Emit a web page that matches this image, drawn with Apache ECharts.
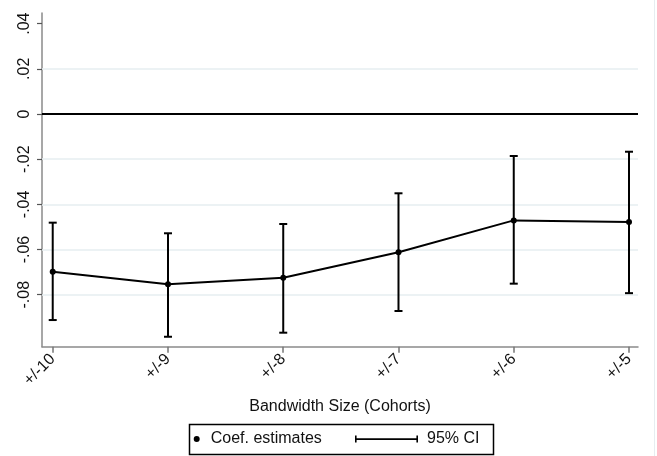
<!DOCTYPE html>
<html>
<head>
<meta charset="utf-8">
<script src="https://cdn.jsdelivr.net/npm/echarts@6/dist/echarts.min.js"></script>
<style>
html,body{margin:0;padding:0;background:#fff;}
#chart{width:657px;height:456px;}
</style>
</head>
<body>
<div id="chart"></div>
<script>
// Bandwidth (cohorts), numeric positions and their tick labels
const bandwidths = [-10, -9, -8, -7, -6, -5];
const xTickLabels = ['+/-10', '+/-9', '+/-8', '+/-7', '+/-6', '+/-5'];
// Coefficient estimates and 95% CI bounds
const coefEstimates = [-0.0698, -0.0754, -0.0725, -0.0612, -0.0471, -0.0478];
const ciUpper = [-0.0481, -0.0528, -0.0487, -0.0351, -0.0186, -0.0167];
const ciLower = [-0.0912, -0.0986, -0.0968, -0.0872, -0.0751, -0.0793];
// Y-axis ticks
const yTicks = [0.04, 0.02, 0, -0.02, -0.04, -0.06, -0.08];
const yGridTicks = [0.02, -0.02, -0.04, -0.06, -0.08];

function fmtY(v) {
  if (Math.abs(v) < 1e-9) return '0';
  const s = v.toFixed(2);
  return s.replace('0.', '.');
}

const font = 'Liberation Sans, Arial, sans-serif';
const chart = echarts.init(document.getElementById('chart'), null, {renderer: 'canvas'});

const pointData = bandwidths.map((b, i) => [b, coefEstimates[i]]);
const ciData = bandwidths.map((b, i) => [b, ciLower[i], ciUpper[i]]);

const option = {
  backgroundColor: '#fff',
  animation: false,
  grid: {left: 42, right: 19, top: 13, bottom: 109.3, containLabel: false},
  xAxis: {
    type: 'value',
    min: -10.093,
    max: -4.922,
    name: 'Bandwidth Size (Cohorts)',
    nameLocation: 'middle',
    nameGap: 52,
    nameTextStyle: {fontFamily: font, fontSize: 16, color: '#111'},
    axisLine: {show: true, onZero: false, lineStyle: {color: '#8a8a8a', width: 1.5}},
    axisTick: {show: true, length: 6, customValues: bandwidths, lineStyle: {color: '#777', width: 1.5}},
    axisLabel: {
      customValues: bandwidths,
      rotate: 45,
      margin: 10,
      fontFamily: font, fontSize: 16, color: '#111',
      formatter: function (v) {
        const idx = bandwidths.findIndex(b => Math.abs(b - v) < 1e-6);
        return idx >= 0 ? xTickLabels[idx] : '';
      }
    },
    splitLine: {show: false}
  },
  yAxis: {
    type: 'value',
    min: -0.1030,
    max: 0.0447,
    axisLine: {show: true, onZero: false, lineStyle: {color: '#8a8a8a', width: 1.5}},
    axisTick: {show: true, length: 5, customValues: yTicks, lineStyle: {color: '#555', width: 1.2}},
    axisLabel: {
      customValues: yTicks,
      rotate: 90,
      margin: 9,
      fontFamily: font, fontSize: 16, color: '#111',
      formatter: fmtY
    },
    splitLine: {show: false}
  },
  legend: [
    {
      data: [{name: 'Coef. estimates', icon: 'circle'}],
      left: 193.7, top: 431,
      padding: 0,
      itemWidth: 6, itemHeight: 6,
      textStyle: {fontFamily: font, fontSize: 16, color: '#111', padding: [0, 0, 0, 6]},
      selectedMode: false
    },
    {
      data: [{name: '95% CI', icon: 'path://M0,0h1.6v7h-1.6z M0,2.8h63v1.6h-63z M61.4,0h1.6v7h-1.6z'}],
      left: 355, top: 431,
      padding: 0,
      itemWidth: 63, itemHeight: 7,
      textStyle: {fontFamily: font, fontSize: 16, color: '#111', padding: [0, 0, 0, 4]},
      selectedMode: false
    }
  ],
  graphic: [
    {type: 'rect', left: 187, top: 422, shape: {width: 304, height: 30}, style: {fill: 'none', stroke: '#000', lineWidth: 1.5}, silent: true},
    {type: 'line', shape: {x1: 654.5, y1: 0, x2: 654.5, y2: 456}, style: {stroke: '#e6edf0', lineWidth: 1}, silent: true}
  ],
  series: [
    {
      name: 'grid',
      type: 'line',
      data: [],
      silent: true,
      markLine: {
        silent: true,
        symbol: 'none',
        z: 1,
        label: {show: false},
        lineStyle: {color: '#e6eef1', width: 1.5, type: 'solid'},
        emphasis: {disabled: true},
        data: yGridTicks.map(v => ({yAxis: v}))
      }
    },
    {
      name: 'zero',
      type: 'line',
      data: [],
      silent: true,
      markLine: {
        silent: true,
        symbol: 'none',
        z: 1,
        label: {show: false},
        lineStyle: {color: '#000', width: 2, type: 'solid'},
        emphasis: {disabled: true},
        data: [{yAxis: 0}]
      }
    },
    {
      name: '95% CI',
      type: 'custom',
      itemStyle: {color: '#000'},
      data: ciData,
      z: 3,
      renderItem: function (params, api) {
        const x = api.value(0);
        const lo = api.coord([x, api.value(1)]);
        const hi = api.coord([x, api.value(2)]);
        const hw = 4;
        const style = {stroke: '#000', lineWidth: 2, fill: 'none'};
        return {
          type: 'group',
          children: [
            {type: 'line', shape: {x1: lo[0], y1: lo[1], x2: hi[0], y2: hi[1]}, style: style},
            {type: 'line', shape: {x1: lo[0] - hw, y1: lo[1], x2: lo[0] + hw, y2: lo[1]}, style: style},
            {type: 'line', shape: {x1: hi[0] - hw, y1: hi[1], x2: hi[0] + hw, y2: hi[1]}, style: style}
          ]
        };
      }
    },
    {
      name: 'Coef. estimates',
      type: 'line',
      data: pointData,
      z: 4,
      color: '#000',
      symbol: 'circle',
      symbolSize: 6,
      showSymbol: true,
      lineStyle: {color: '#000', width: 2},
      itemStyle: {color: '#000'},
      emphasis: {disabled: true}
    }
  ]
};
chart.setOption(option);
</script>
</body>
</html>
